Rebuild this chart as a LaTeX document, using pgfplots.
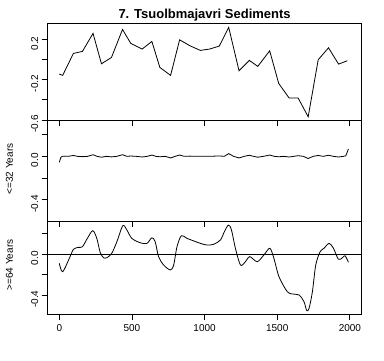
\documentclass[border=0pt]{standalone}
\usepackage{pgfplots}
\pgfplotsset{compat=1.18}
\usepackage{fontspec}
\setmainfont{Liberation Sans}

\pgfplotsset{
  rpanel/.style={
    scale only axis,
    width=313.8bp,
    xmin=-80, xmax=2080,
    axis line style={line width=0.8bp},
    every tick/.style={line width=0.8bp, black},
    tick align=outside,
    major tick length=6bp,
    xtick pos=bottom, ytick pos=left,
    xtick={0,500,1000,1500,2000},
    ytick={-0.6,-0.4,-0.2,0,0.2},
    /pgf/number format/assume math mode=true,
    tick label style={font=\fontsize{10bp}{12bp}\selectfont},
    yticklabel style={rotate=90, anchor=south, xshift=-4bp},
    xticklabel style={yshift=-1bp},
    clip=true,
  },
  rline/.style={black, no markers, line width=0.8bp},
}

\begin{document}
\begin{tikzpicture}
\path (0,0) rectangle (384bp,361bp);

% Panel 1
\begin{axis}[rpanel, at={(47.7bp,241bp)}, anchor=south west, height=96.7bp,
  ymin=-0.6, ymax=0.36,
  xticklabels={},
  yticklabels={-0.6,{},-0.2,{},0.2},
]
\addplot[rline] coordinates {
(0,-0.144) (23,-0.157) (97,0.061) (159,0.081) (232,0.26) (290,-0.042)
(359,0.021) (435,0.299) (492,0.16) (570,0.104) (637,0.18) (692,-0.078)
(766,-0.157) (828,0.196) (899,0.137) (970,0.091) (1034,0.104) (1101,0.134)
(1166,0.319) (1237,-0.111) (1308,-0.008) (1366,-0.068) (1448,0.087)
(1510,-0.237) (1582,-0.382) (1644,-0.382) (1713,-0.568) (1782,-0.002)
(1853,0.117) (1922,-0.045) (1982,-0.012)
};
\end{axis}

% Panel 2
\begin{axis}[rpanel, at={(47.7bp,140bp)}, anchor=south west, height=101bp,
  ymin=-0.596, ymax=0.335,
  ytick={-0.4,-0.2,0,0.2},
  xticklabels={},
  yticklabels={-0.4,{},0.0,{}},
]
\addplot[rline] coordinates {
(0,-0.055) (10,-0.01) (20,0.0) (40,0.002) (60,0.0) (97,0.008) (125,0.0)
(159,-0.003) (195,0.0) (232,0.015) (260,0.0) (290,-0.008) (325,0.0)
(359,-0.005) (395,0.0) (435,0.015) (465,0.0) (492,0.003) (530,0.0)
(570,-0.006) (605,0.0) (637,0.012) (665,0.0) (692,-0.004) (730,0.0)
(766,-0.015) (797,0.0) (828,0.012) (860,0.0) (899,0.002) (935,0.0)
(970,0.0) (1034,0.0) (1101,0.004) (1135,0.0) (1166,0.025) (1200,0.0)
(1237,-0.015) (1272,0.0) (1308,0.01) (1337,0.0) (1366,-0.008) (1405,0.0)
(1448,0.012) (1480,0.0) (1510,-0.004) (1545,0.0) (1582,-0.006) (1613,0.0)
(1644,0.006) (1680,0.0) (1713,-0.02) (1747,0.0) (1782,0.008) (1817,0.0)
(1853,0.01) (1887,0.0) (1922,-0.006) (1955,0.0) (1972,0.005) (1990,0.068)
};
\end{axis}

% Panel 3
\begin{axis}[rpanel, at={(47.7bp,47bp)}, anchor=south west, height=93bp,
  ymin=-0.584, ymax=0.326,
  ytick={-0.4,-0.2,0,0.2},
  yticklabels={-0.4,{},0.0,{}},
  xticklabels={0,500,1000,1500,2000},
]
\addplot[rline] coordinates {(-80,0) (2080,0)};
\addplot[rline, smooth, tension=0.5] coordinates {
(0,-0.088) (23,-0.17) (74,-0.023) (97,0.049) (131,0.068) (159,0.074)
(193,0.156) (230,0.231) (258,0.156) (281,0.02) (304,-0.033) (327,-0.033)
(361,0.01) (396,0.123) (437,0.28) (465,0.238) (499,0.156) (557,0.113)
(603,0.107) (637,0.162) (660,0.123) (683,-0.023) (718,-0.105) (764,-0.153)
(787,-0.105) (810,0.074) (840,0.182) (879,0.156) (971,0.107) (1017,0.091)
(1063,0.098) (1109,0.14) (1136,0.221) (1164,0.286) (1185,0.238) (1212,0.059)
(1247,-0.105) (1281,-0.072) (1311,-0.023) (1362,-0.072) (1408,-0.007)
(1449,0.059) (1477,-0.039) (1512,-0.219) (1569,-0.366) (1604,-0.388)
(1650,-0.398) (1684,-0.463) (1703,-0.551) (1719,-0.528) (1742,-0.366)
(1765,-0.105) (1795,0.025) (1822,0.059) (1857,0.107) (1887,0.059)
(1921,-0.049) (1949,-0.033) (1967,-0.014) (1990,-0.078)
};
\end{axis}

\node[anchor=base, font=\bfseries\fontsize{13bp}{15bp}\selectfont] at (204.6bp,342bp) {7. Tsuolbmajavri Sediments};
\node[rotate=90, font=\fontsize{10bp}{12bp}\selectfont] at (9.5bp,192bp) {<=32 Years};
\node[rotate=90, font=\fontsize{10bp}{12bp}\selectfont] at (9.5bp,96bp) {>=64 Years};
\end{tikzpicture}
\end{document}
